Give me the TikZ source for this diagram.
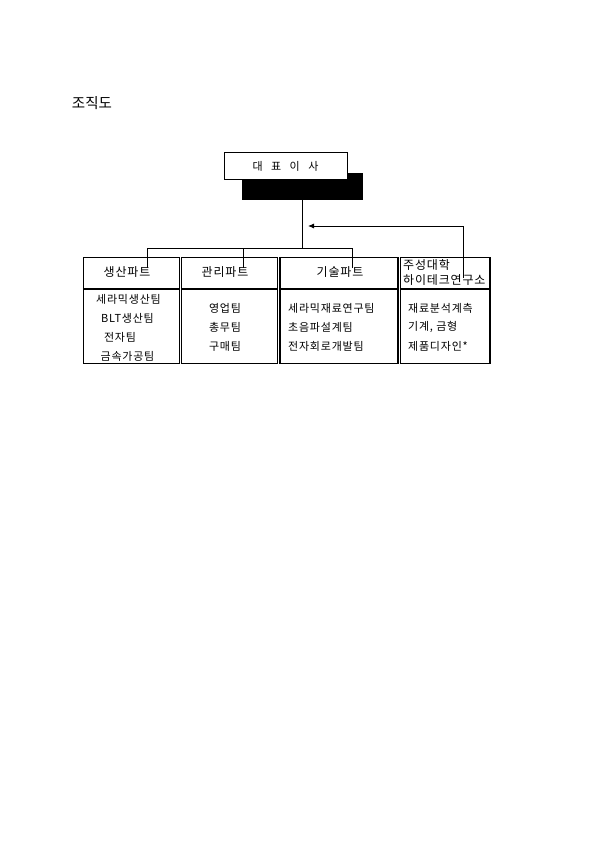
\documentclass[tikz,border=0pt]{standalone}
\usepackage{fontspec}
\newfontfamily\kr{Noto Sans CJK KR}
\newfontfamily\krs[LetterSpace=7]{Noto Sans CJK KR}
\usetikzlibrary{arrows.meta}
\begin{document}
\begin{tikzpicture}[x=1pt,y=-1pt,
  titletext/.style={font=\kr\fontsize{14.5}{16}\selectfont, inner sep=0pt},
  ceobox/.style={draw, fill=white, line width=1pt, minimum width=123pt, minimum height=27pt, inner sep=0pt, font=\kr\fontsize{11}{12}\selectfont},
  shadowbox/.style={draw, fill=black, minimum width=120pt, minimum height=26pt, inner sep=0pt},
  partbox/.style={draw, line width=1.4pt, minimum height=106pt, inner sep=0pt},
  headtext/.style={font=\krs\fontsize{12}{13}\selectfont, inner sep=0pt},
  bodytext/.style={font=\krs\fontsize{11}{12}\selectfont, inner sep=0pt},
  divider/.style={line width=1.4pt},
  conn/.style={line width=0.9pt}
]
\useasboundingbox (0,0) rectangle (595,842);

\node[titletext] (title) at (92,103) {조직도};

% CEO
\node[shadowbox] (shadow) at (302.5,186) {};
\node[ceobox] (ceo) at (285.5,166.5) {대\hspace{8.5pt}표\hspace{8.5pt}이\hspace{8.5pt}사};

% part boxes
\node[partbox, minimum width=96pt] (p1) at (131.5,310.5) {};
\node[partbox, minimum width=95.5pt] (p2) at (229.5,310.5) {};
\node[partbox, minimum width=118pt] (p3) at (339,310.5) {};
\node[partbox, minimum width=89.5pt] (p4) at (445.3,310.5) {};

% header dividers
\foreach \b in {p1,p2,p3,p4}{
  \draw[divider] (\b.west |- 0,289) -- (\b.east |- 0,289);
}

% headers
\node[headtext] (h1) at (127,272) {생산파트};
\node[headtext] (h2) at (225,272) {관리파트};
\node[headtext] (h3) at (340,272) {기술파트};
\node[headtext, anchor=west] (h4a) at (403,265) {주성대학};
\node[headtext, anchor=west] (h4b) at (403,280) {하이테크연구소};

% body p1
\node[bodytext] (b11) at (128.5,299) {세라믹생산팀};
\node[bodytext] (b12) at (127.5,318) {BLT생산팀};
\node[bodytext] (b13) at (120,337) {전자팀};
\node[bodytext] (b14) at (127.5,356) {금속가공팀};
% body p2
\node[bodytext] (b21) at (225,308) {영업팀};
\node[bodytext] (b22) at (225,327) {총무팀};
\node[bodytext] (b23) at (225,346) {구매팀};
% body p3
\node[bodytext, anchor=west] (b31) at (288,308) {세라믹재료연구팀};
\node[bodytext, anchor=west] (b32) at (288,327) {초음파설계팀};
\node[bodytext, anchor=west] (b33) at (288,346) {전자회로개발팀};
% body p4
\node[bodytext, anchor=west] (b41) at (408,308) {재료분석계측};
\node[bodytext, anchor=west] (b42) at (408,327) {기계, 금형};
\node[bodytext, anchor=west] (b43) at (408,346) {제품디자인*};

% connectors
\coordinate (j) at (302.5,248);
\coordinate (t1) at (147,248);
\coordinate (t2) at (243,248);
\coordinate (t3) at (352,248);
\coordinate (d1) at (147,268);
\coordinate (d2) at (243,268);
\coordinate (d3) at (352,268);
\draw[conn] (shadow.south) -- (j);
\draw[conn] (d1) -- (t1) -- (t3) -- (d3);
\draw[conn] (t2) -- (d2);

\coordinate (a1) at (463,278);
\coordinate (a2) at (463,226);
\coordinate (a3) at (308,226);
\draw[conn, -{Latex[length=6pt,width=5pt]}] (a1) -- (a2) -- (a3);
\end{tikzpicture}
\end{document}
